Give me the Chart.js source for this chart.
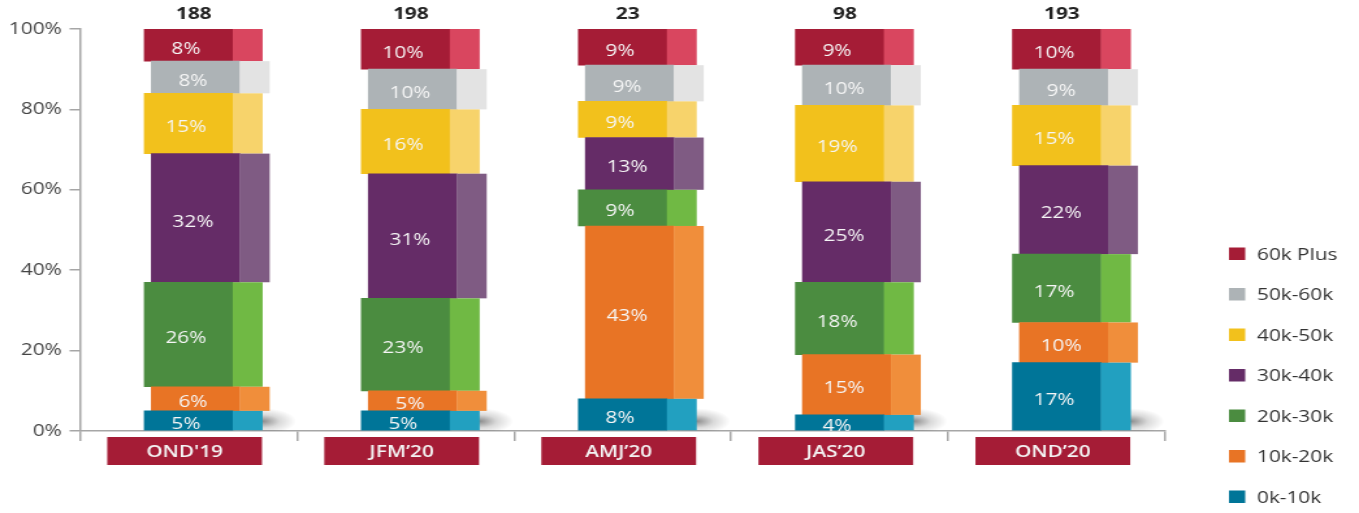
<!DOCTYPE html>
<html>
<head>
<meta charset="utf-8">
<script src="https://cdn.jsdelivr.net/npm/chart.js@4.4.0/dist/chart.umd.min.js"></script>
<style>
  html, body { margin: 0; padding: 0; background: #fff; overflow: hidden; }
  /* the reference picture is stretched sideways, so the whole canvas is too */
  #wrap { width: 1045px; height: 513px; transform: scaleX(1.3005); transform-origin: 0 0; }
</style>
</head>
<body>
<div id="wrap"><canvas id="myChart"></canvas></div>
<script>
/// Data

const quarters = ["OND'19", "JFM’20", "AMJ’20", "JAS’20", "OND’20"];
const totals = [188, 198, 23, 98, 193];

const band0to10 = [5, 5, 8, 4, 17];
const band10to20 = [6, 5, 43, 15, 10];
const band20to30 = [26, 23, 9, 18, 17];
const band30to40 = [32, 31, 13, 25, 22];
const band40to50 = [15, 16, 9, 19, 15];
const band50to60 = [8, 10, 9, 10, 9];
const band60plus = [8, 10, 9, 9, 10];

const bandLabels = ["0k-10k", "10k-20k", "20k-30k", "30k-40k", "40k-50k", "50k-60k", "60k Plus"];
const bandValues = [band0to10, band10to20, band20to30, band30to40, band40to50, band50to60, band60plus];

const yMax = 100;
const yStep = 20;

// front face / side face colours
const frontColors = ["#007598", "#e87425", "#4b8c40", "#652c67", "#f2c11c", "#adb3b6", "#a51c36"];
const sideColors = ["#22a0c0", "#f08e3b", "#70b944", "#7f5b83", "#f7d36b", "#e3e3e3", "#d9465f"];

/// Drawing

const FACE = 68;   // front face width
const SIDE = 23;   // side face width
const STEP = 5.4;  // every other box is pushed right
const AXIS = "#a6a6a6";

Chart.defaults.font.family = "'Open Sans', sans-serif";

const boxPlugin = {
  id: "boxes",
  afterDatasetsUpdate(chart) {
    chart.data.datasets.forEach((ds, i) => {
      if (i % 2 === 1) {
        chart.getDatasetMeta(i).data.forEach((el) => {
          el.x += STEP;
        });
      }
    });
  },
  beforeDatasetsDraw(chart) {
    const ctx = chart.ctx;
    const area = chart.chartArea;
    ctx.save();
    ctx.beginPath();
    ctx.rect(area.left, area.top, area.width, area.height);
    ctx.clip();
    chart.getDatasetMeta(0).data.forEach((el) => {
      const x0 = el.x + el.width / 2 + SIDE;
      ctx.save();
      ctx.translate(x0, el.base - 9);
      ctx.scale(26, 13);
      const g = ctx.createRadialGradient(0, 0, 0, 0, 0, 1);
      g.addColorStop(0, "rgba(0,0,0,0.45)");
      g.addColorStop(0.5, "rgba(0,0,0,0.15)");
      g.addColorStop(1, "rgba(0,0,0,0)");
      ctx.fillStyle = g;
      ctx.fillRect(-1, -1, 2, 2);
      ctx.restore();
    });
    ctx.restore();
  },
  afterDatasetDraw(chart, args) {
    const ctx = chart.ctx;
    ctx.save();
    ctx.fillStyle = sideColors[args.index];
    args.meta.data.forEach((el) => {
      const top = Math.min(el.y, el.base);
      ctx.fillRect(el.x + el.width / 2, top, SIDE, Math.abs(el.base - el.y));
    });
    ctx.restore();
  },
  afterDatasetsDraw(chart) {
    const ctx = chart.ctx;
    ctx.save();
    ctx.textAlign = "center";
    ctx.textBaseline = "middle";
    ctx.font = "16px 'Open Sans'";
    ctx.fillStyle = "#f6f6f6";
    chart.data.datasets.forEach((ds, i) => {
      chart.getDatasetMeta(i).data.forEach((el, j) => {
        ctx.fillText(ds.data[j] + "%", el.x - 2, (el.y + el.base) / 2 + 4);
      });
    });

    // totals on top
    const xs = chart.scales.x;
    const ys = chart.scales.y;
    ctx.font = "bold 16px 'Open Sans'";
    ctx.fillStyle = "#222";
    totals.forEach((t, j) => {
      ctx.fillText(String(t), xs.getPixelForValue(j) + 4, ys.getPixelForValue(yMax) - 15);
    });
    ctx.restore();
  },
  afterDraw(chart) {
    const ctx = chart.ctx;
    const xs = chart.scales.x;
    const area = chart.chartArea;
    ctx.save();

    // quarter boxes under the axis
    ctx.textAlign = "center";
    ctx.textBaseline = "middle";
    ctx.font = "600 16px 'Open Sans'";
    quarters.forEach((q, j) => {
      const cx = xs.getPixelForValue(j) - 3;
      const top = area.bottom + 6;
      ctx.fillStyle = "#a51c36";
      ctx.fillRect(cx - 59.5, top, 119, 28);
      ctx.fillStyle = "#f4f4f4";
      ctx.fillText(q, cx, top + 15);
    });

    // legend, top item is the last band
    ctx.textAlign = "left";
    ctx.font = "16px 'Open Sans'";
    for (let k = 0; k < bandLabels.length; k++) {
      const i = bandLabels.length - 1 - k;
      const y = 254 + k * 40.5;
      ctx.fillStyle = frontColors[i];
      ctx.fillRect(945, y - 6.5, 12.5, 12.5);
      ctx.fillStyle = "#333";
      ctx.fillText(bandLabels[i], 966.5, y + 1);
    }
    ctx.restore();
  },
};

const data = {
  labels: quarters,
  datasets: bandLabels.map((label, i) => ({
    label: label,
    data: bandValues[i],
    backgroundColor: frontColors[i],
    borderWidth: 0,
    barThickness: FACE,
  })),
};

const config = {
  type: "bar",
  data: data,
  plugins: [boxPlugin],
  options: {
    responsive: true,
    maintainAspectRatio: false,
    animation: false,
    events: [],
    layout: { padding: { top: 29, right: 149, bottom: 0, left: 0 } },
    plugins: {
      legend: { display: false },
      tooltip: { enabled: false },
    },
    scales: {
      x: {
        stacked: true,
        offset: true,
        ticks: { display: false },
        grid: {
          offset: true,
          drawOnChartArea: false,
          drawTicks: true,
          tickLength: 10,
          color: AXIS,
          lineWidth: 1.5,
        },
        border: { color: AXIS, width: 1.5 },
        afterFit: (scale) => {
          scale.height = 82;
        },
      },
      y: {
        stacked: true,
        min: 0,
        max: yMax,
        ticks: {
          stepSize: yStep,
          callback: (v) => v + "%",
          padding: 6,
          color: "#444",
          font: { size: 16 },
        },
        grid: {
          drawOnChartArea: false,
          tickLength: 8,
          color: AXIS,
          lineWidth: 1.5,
        },
        border: { color: AXIS, width: 1.5 },
        afterFit: (scale) => {
          scale.width = 61.5;
        },
      },
    },
  },
};

var myChart = new Chart(document.getElementById("myChart"), config);
</script>
</body>
</html>
